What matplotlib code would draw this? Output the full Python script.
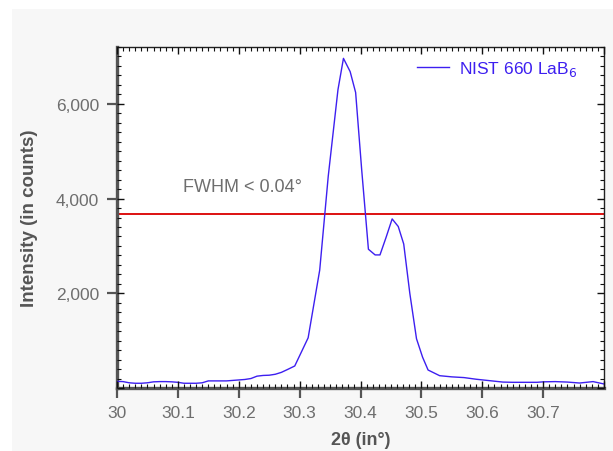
import matplotlib
matplotlib.use("Agg")
import matplotlib.pyplot as plt
from matplotlib.patches import Rectangle
from matplotlib.ticker import MultipleLocator

plt.rcParams['font.family'] = ['Liberation Sans', 'DejaVu Sans']

# ---- data ----
two_theta = [30.000, 30.010, 30.020, 30.030, 30.040, 30.050, 30.060, 30.070, 30.080,
             30.090, 30.100, 30.110, 30.120, 30.130, 30.140, 30.150, 30.160, 30.170,
             30.180, 30.190, 30.200, 30.210, 30.220, 30.230, 30.240, 30.250, 30.260,
             30.270, 30.280, 30.292, 30.314, 30.333, 30.347, 30.363, 30.372, 30.383,
             30.392, 30.402, 30.413, 30.424, 30.432, 30.442, 30.452, 30.462, 30.471,
             30.481, 30.492, 30.502, 30.511, 30.530, 30.550, 30.570, 30.590, 30.612,
             30.634, 30.650, 30.670, 30.690, 30.700, 30.720, 30.740, 30.760, 30.782,
             30.800]
counts = [140, 135, 110, 100, 100, 110, 130, 135, 135,
          130, 120, 100, 100, 100, 110, 150, 150, 150,
          150, 160, 170, 180, 200, 250, 265, 270, 290,
          330, 390, 465, 1060, 2490, 4470, 6300, 6960, 6680,
          6240, 4600, 2930, 2810, 2810, 3180, 3570, 3410, 3040,
          2000, 1040, 650, 380, 260, 235, 220, 185, 155,
          125, 120, 120, 120, 130, 135, 125, 105, 135,
          85]
fwhm_level = 3680
legend_label = 'NIST 660 LaB$_6$'
annotation = 'FWHM < 0.04°'
x_label = '2θ (in°)'
y_label = 'Intensity (in counts)'
x_ticks = [30.0, 30.1, 30.2, 30.3, 30.4, 30.5, 30.6, 30.7]
x_ticklabels = ['30', '30.1', '30.2', '30.3', '30.4', '30.5', '30.6', '30.7']
y_ticks = [2000, 4000, 6000]
y_ticklabels = ['2,000', '4,000', '6,000']

W, H = 613, 452
fig = plt.figure(figsize=(W / 100, H / 100), dpi=100)
fig.patch.set_facecolor('white')
fig.patches.append(Rectangle((12 / W, 0), 1, (H - 10) / H, transform=fig.transFigure,
                             facecolor='#f7f7f7', edgecolor='none', zorder=-10))

pos = [117 / W, (H - 389) / H, (604 - 117) / W, (389 - 48) / H]
XLIM = (30.0, 30.8)
YLIM = (0, 7200)

ax = fig.add_axes(pos)
ax.set_facecolor('white')

blue = '#3d1ff0'
red = '#dd1111'
gray = '#6e6e6e'
dark = '#555555'

ax.plot(two_theta, counts, color=blue, lw=1.0, label=legend_label, zorder=3)
ax.axhline(fwhm_level, color=red, lw=1.4, zorder=2)
ax.text(30.108, 4250, annotation, color=gray, fontsize=13, ha='left', va='center')

ax.set_xlim(*XLIM)
ax.set_ylim(*YLIM)

ax.set_xticks(x_ticks)
ax.set_xticklabels(x_ticklabels)
ax.set_yticks(y_ticks)
ax.set_yticklabels(y_ticklabels)
ax.tick_params(axis='both', which='major', direction='out', length=7, width=1.6,
               color=dark, labelcolor=gray, labelsize=12.5, pad=5)
ax.tick_params(axis='y', pad=6)
ax.tick_params(top=False, right=False)

for s in ['left', 'bottom']:
    ax.spines[s].set_color(dark)
    ax.spines[s].set_linewidth(2.4)
for s in ['top', 'right']:
    ax.spines[s].set_color('#222222')
    ax.spines[s].set_linewidth(1.0)

ax.set_xlabel(x_label, fontsize=13, fontweight='bold', color=dark, labelpad=8)
ax.set_ylabel(y_label, fontsize=13.5, fontweight='bold', color=dark, labelpad=13)

leg = ax.legend(loc='upper right', frameon=False, fontsize=12.5, handlelength=1.8,
                handletextpad=0.6, borderaxespad=0.3, bbox_to_anchor=(0.97, 1.0))
for t in leg.get_texts():
    t.set_color(blue)

# inner tick overlay (independent axes, same limits)
ax2 = fig.add_axes(pos)
ax2.patch.set_visible(False)
for s in ax2.spines.values():
    s.set_visible(False)
ax2.set_xlim(*XLIM)
ax2.set_ylim(*YLIM)
ax2.xaxis.set_major_locator(MultipleLocator(0.1))
ax2.xaxis.set_minor_locator(MultipleLocator(0.01))
ax2.yaxis.set_major_locator(MultipleLocator(2000))
ax2.yaxis.set_minor_locator(MultipleLocator(200))
ax2.tick_params(axis='both', which='both', direction='in', color='#111111',
                top=True, right=True, bottom=True, left=True,
                labelbottom=False, labelleft=False, labeltop=False, labelright=False)
ax2.tick_params(which='major', length=5, width=1.0)
ax2.tick_params(which='minor', length=3, width=0.8)

fig.savefig('out.png', dpi=100)
